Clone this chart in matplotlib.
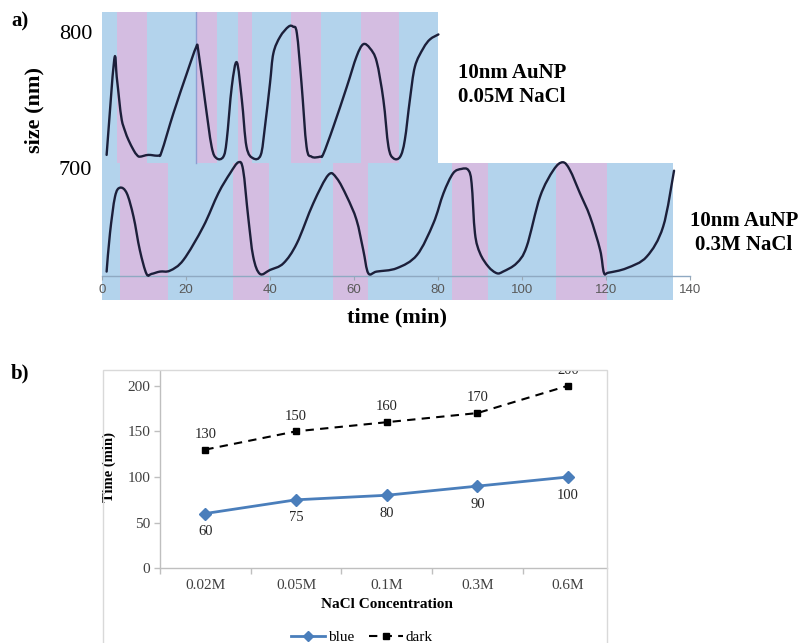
import matplotlib
matplotlib.use("Agg")
import matplotlib.pyplot as plt
import numpy as np
from matplotlib.patches import Rectangle, PathPatch
from matplotlib.path import Path

SERIF = "Liberation Serif"
SANS = "Liberation Sans"

# ---------------- data: panel a) ----------------
# size trace, 10nm AuNP in 0.05M NaCl
upper_t = [1.1, 2.9, 3.5, 4.1, 4.7, 5.5, 6.3, 7.5, 8.3, 9.0, 11.0, 13.4, 14.2, 17.0,
           20.2, 22.4, 22.9, 24.5, 26.1, 27.3, 28.9, 29.7, 30.9, 32.1, 33.3, 34.4,
           36.0, 37.8, 38.8, 40.0, 40.8, 42.4, 44.4, 45.5, 46.4, 47.5, 48.7, 49.9,
           51.9, 52.7, 55.1, 58.3, 60.6, 62.2, 63.8, 65.4, 67.0, 68.2, 69.4, 71.0,
           72.1, 73.3, 74.5, 76.5, 78.1, 80.1]
upper_size = [709.6, 779.4, 767.1, 750.0, 735.3, 727.0, 720.6, 713.2, 709.6, 708.3,
              709.6, 709.1, 712.0, 740.2, 769.6, 788.7, 786.8, 750.0, 715.7, 707.1,
              708.3, 720.6, 759.8, 777.7, 750.0, 715.7, 707.1, 709.6, 730.4, 762.3,
              784.3, 796.5, 803.9, 803.9, 799.0, 762.3, 715.7, 708.3, 708.3, 710.3,
              730.4, 759.8, 781.9, 791.0, 788.0, 778.2, 750.0, 715.7, 707.1, 708.3,
              720.6, 750.0, 774.5, 788.0, 794.6, 798.2]

# size trace, 10nm AuNP in 0.3M NaCl
lower_t = [1.1, 1.9, 3.1, 4.3, 5.9, 7.5, 9.0, 10.6, 11.8, 13.8, 16.2, 19.4, 24.1,
           27.7, 30.5, 32.5, 33.6, 34.8, 36.0, 37.6, 40.0, 43.2, 46.4, 50.3, 53.9,
           55.9, 58.3, 60.6, 62.2, 63.4, 65.4, 70.2, 75.0, 78.9, 81.3, 83.6, 85.6,
           87.2, 88.0, 88.8, 90.0, 92.0, 94.0, 95.5, 98.7, 101.1, 104.3, 107.5,
           109.7, 111.4, 113.8, 116.2, 118.6, 119.5, 120.6, 124.9, 129.7, 133.6, 136.2]
lower_size = [623.8, 652.0, 678.9, 685.5, 681.4, 664.2, 639.7, 622.1, 622.1, 623.8,
              624.5, 632.4, 656.8, 681.4, 696.1, 704.2, 698.5, 664.2, 634.8, 622.1,
              625.0, 629.9, 644.6, 674.0, 694.9, 692.4, 678.9, 661.8, 639.7, 622.6,
              623.8, 626.3, 636.0, 659.3, 681.4, 696.1, 699.3, 698.5, 688.8, 652.0,
              637.3, 627.4, 622.6, 623.8, 629.9, 642.1, 678.9, 698.5, 704.2, 698.5,
              681.4, 664.2, 639.7, 623.0, 623.0, 626.3, 634.8, 656.8, 698.0]

# light periods: blue / dark alternating, starting with blue (min)
upper_edges = [0, 3.6, 10.8, 22.4, 27.3, 32.3, 35.6, 45.1, 52.2, 61.6, 70.7, 80.0]
lower_edges = [0, 4.3, 15.8, 31.1, 39.7, 55.0, 63.3, 83.4, 92.0, 108.0, 120.2, 136.0]

time_ticks = [0, 20, 40, 60, 80, 100, 120, 140]
size_ticks = [700, 800]

# ---------------- data: panel b) ----------------
conc = ["0.02M", "0.05M", "0.1M", "0.3M", "0.6M"]
blue_time = [60, 75, 80, 90, 100]
dark_time = [130, 150, 160, 170, 200]

BLUE_BG = "#B3D3EC"
PINK_BG = "#D4BDE1"
TRACE = "#1C1F3A"

W, H = 805, 643
fig = plt.figure(figsize=(W / 100, H / 100), dpi=100)


def px_rect(left, top, right, bottom):
    return [left / W, 1 - bottom / H, (right - left) / W, (bottom - top) / H]


def smooth_path(x, y):
    """Cubic Bezier path through the given points (spreadsheet-style smoothed line)."""
    p = np.column_stack([x, y]).astype(float)
    n = len(p)
    verts = [p[0]]
    codes = [Path.MOVETO]
    for i in range(n - 1):
        p0 = p[i - 1] if i > 0 else p[i]
        p3 = p[i + 2] if i + 2 < n else p[i + 1]
        c1 = p[i] + (p[i + 1] - p0) / 6.0
        c2 = p[i + 1] - (p3 - p[i]) / 6.0
        verts += [c1, c2, p[i + 1]]
        codes += [Path.CURVE4] * 3
    return Path(verts, codes)


# ================= panel a) =================
ax = fig.add_axes(px_rect(102, 12, 690, 300))
ax.set_xlim(0, 140)
ax.set_ylim(602.9, 814.7)

upper_band = (703.7, 814.7)
lower_band = (602.9, 703.7)
for edges, (y0, y1) in ((upper_edges, upper_band), (lower_edges, lower_band)):
    for i in range(len(edges) - 1):
        col = BLUE_BG if i % 2 == 0 else PINK_BG
        ax.fill_between([edges[i], edges[i + 1]], y0, y1, color=col, lw=0, zorder=0)

# divider inside the upper trace
ax.plot([upper_edges[3], upper_edges[3]], upper_band, color="#8E9CD2", lw=1.0, zorder=1)

for tt, ss in ((upper_t, upper_size), (lower_t, lower_size)):
    ax.add_patch(PathPatch(smooth_path(tt, ss), facecolor="none", edgecolor=TRACE,
                           lw=1.7, joinstyle="round", capstyle="round", zorder=3))

for s in ("top", "right", "left"):
    ax.spines[s].set_visible(False)
ax.spines["bottom"].set_position(("data", 620.6))
ax.spines["bottom"].set_color("#8FA9C2")
ax.spines["bottom"].set_linewidth(1.0)
ax.set_xticks(time_ticks)
ax.set_xticklabels([str(t) for t in time_ticks])
ax.tick_params(axis="x", direction="out", length=3, width=0.8, color="#9AA8B5",
               labelsize=9.5, labelcolor="#595959", pad=3)
for lab in ax.get_xticklabels():
    lab.set_fontfamily(SANS)
ax.set_yticks(size_ticks)
ax.set_yticklabels([str(v) for v in size_ticks])
ax.tick_params(axis="y", length=0, labelsize=16, pad=7)
for lab in ax.get_yticklabels():
    lab.set_fontfamily(SERIF)

ax.set_ylabel("size (nm)", fontfamily=SERIF, fontweight="bold", fontsize=16)
ax.yaxis.set_label_coords((44 - 102) / 588, (300 - 110) / 288)
ax.set_xlabel("time (min)", fontfamily=SERIF, fontweight="bold", fontsize=16)
ax.xaxis.set_label_coords((397 - 102) / 588, (300 - 317) / 288)
ax.xaxis.label.set_verticalalignment("center")

fig.text(512 / W, 1 - 85 / H, "10nm AuNP\n0.05M NaCl", fontfamily=SERIF,
         fontweight="bold", fontsize=15, ha="center", va="center",
         multialignment="center", linespacing=1.25)
fig.text(744 / W, 1 - 233 / H, "10nm AuNP\n0.3M NaCl", fontfamily=SERIF,
         fontweight="bold", fontsize=15, ha="center", va="center",
         multialignment="center", linespacing=1.25)
fig.text(20 / W, 1 - 21 / H, "a)", fontfamily=SERIF, fontweight="bold",
         fontsize=15, ha="center", va="center")
fig.text(20 / W, 1 - 373 / H, "b)", fontfamily=SERIF, fontweight="bold",
         fontsize=15, ha="center", va="center")

# ================= panel b) =================
fig.patches.append(Rectangle((103 / W, -0.05), (606.7 - 103) / W, 0.05 + 1 - 370 / H,
                             transform=fig.transFigure, fill=False,
                             edgecolor="#D9D9D9", lw=1.0, zorder=0))

bx = fig.add_axes(px_rect(160, 370.7, 606.7, 568.3))
bx.set_xlim(-0.5, 4.425)
bx.set_ylim(0, 216.4)
xs = list(range(len(conc)))

bx.plot(xs, blue_time, color="#4A7EBB", lw=2.0, marker="D", markersize=6,
        label="blue", zorder=3)
bx.plot(xs, dark_time, color="black", lw=1.5, ls=(0, (4, 3)), marker="s",
        markersize=5, label="dark", zorder=3)

for x, v in zip(xs, blue_time):
    bx.annotate(str(v), (x, v), xytext=(0, -13), textcoords="offset points",
                ha="center", va="center", fontfamily=SERIF, fontsize=10.5,
                color="#262626", annotation_clip=False, clip_on=True)
for x, v in zip(xs, dark_time):
    bx.annotate(str(v), (x, v), xytext=(0, 11), textcoords="offset points",
                ha="center", va="center", fontfamily=SERIF, fontsize=10.5,
                color="#262626", annotation_clip=False, clip_on=True)

for s in ("top", "right"):
    bx.spines[s].set_visible(False)
for s in ("left", "bottom"):
    bx.spines[s].set_color("#BFBFBF")
    bx.spines[s].set_linewidth(1.0)

bx.set_yticks([0, 50, 100, 150, 200])
bx.set_xticks(xs)
bx.set_xticklabels(conc)
bx.set_xticks([-0.5, 0.5, 1.5, 2.5, 3.5], minor=True)
bx.tick_params(axis="x", which="major", length=0, pad=8)
bx.tick_params(axis="x", which="minor", length=4, width=1.0, color="#BFBFBF")
bx.tick_params(axis="y", length=4, width=1.0, color="#BFBFBF", pad=3)
bx.tick_params(labelsize=11, labelcolor="#404040")
for lab in bx.get_xticklabels() + bx.get_yticklabels():
    lab.set_fontfamily(SERIF)

bx.set_ylabel("Time (min)", fontfamily=SERIF, fontweight="bold", fontsize=10.5)
bx.yaxis.set_label_coords((116 - 160) / 446.7, (568.3 - 467) / 197.6)
bx.set_xlabel("NaCl Concentration", fontfamily=SERIF, fontweight="bold", fontsize=11)
bx.xaxis.set_label_coords((387 - 160) / 446.7, (568.3 - 605) / 197.6)
bx.xaxis.label.set_verticalalignment("center")

fig.legend(loc="center", bbox_to_anchor=(362 / W, 1 - 637 / H), ncol=2,
           frameon=False, handlelength=2.2, handletextpad=0.2, columnspacing=1.0,
           markerscale=0.8, prop={"family": SERIF, "size": 11})

fig.savefig("out.png", dpi=100)
